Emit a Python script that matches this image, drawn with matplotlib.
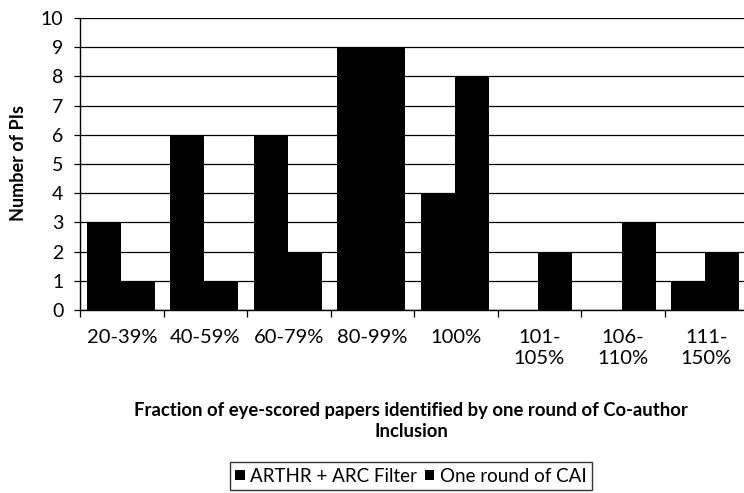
import matplotlib
matplotlib.use("Agg")
import matplotlib.pyplot as plt
import numpy as np

categories = ["20-39%", "40-59%", "60-79%", "80-99%", "100%", "101-\n105%", "106-\n110%", "111-\n150%"]
arthr_arc = [3, 6, 6, 9, 4, 0, 0, 1]
one_round_cai = [1, 1, 2, 9, 8, 2, 3, 2]
series_names = ["ARTHR + ARC Filter", "One round of CAI"]
yticks = list(range(0, 11))

plt.rcParams['font.family'] = ['Lato', 'DejaVu Sans']

fig = plt.figure(figsize=(7.44, 4.93), dpi=100)
W, H = 744, 493
ax = fig.add_axes([80 / W, 1 - 310 / H, 668 / W, 292 / H])

x = np.arange(len(categories))
bw = 0.407
ax.bar(x - 0.213, arthr_arc, width=bw, color="black", zorder=3, label=series_names[0])
ax.bar(x + 0.194, one_round_cai, width=bw, color="black", zorder=3, label=series_names[1])

ax.set_xlim(-0.5, len(categories) - 0.5)
ax.set_ylim(0, 10)
ax.set_yticks(yticks)
ax.set_yticklabels([str(v) for v in yticks], fontsize=14)
ax.yaxis.grid(True, color="black", linewidth=0.9, zorder=0)
ax.set_axisbelow(True)

ax.set_xticks(x)
ax.set_xticklabels(categories, fontsize=14.5, linespacing=1.25, va="top")
ax.tick_params(axis="x", which="major", length=0, pad=14)
ax.set_xticks(np.arange(-0.5, len(categories), 1.0), minor=True)
ax.tick_params(axis="x", which="minor", length=5, width=0.9, color="black", direction="out")
ax.tick_params(axis="y", length=4, width=0.9, color="black", pad=8)

for s in ["top", "right"]:
    ax.spines[s].set_visible(False)
ax.spines["left"].set_linewidth(1.0)
ax.spines["bottom"].set_linewidth(1.0)

ax.set_ylabel("Number of PIs", fontsize=13, fontweight="bold")
ax.yaxis.set_label_coords(-(80 - 19) / 668, (310 - 163) / 292, transform=ax.transAxes)
ax.yaxis.label.set_va("center")
ax.set_xlabel("Fraction of eye-scored papers identified by one round of Co-author\nInclusion",
              fontsize=13.3, fontweight="bold", linespacing=1.3)
ax.xaxis.set_label_coords((411 - 80) / 668, -(402 - 310) / 292, transform=ax.transAxes)
ax.xaxis.label.set_va("top")

leg = fig.legend(loc="center", bbox_to_anchor=(411 / W, 1 - 476 / H), ncol=2,
                 frameon=True, fancybox=False, edgecolor="black", fontsize=13.5,
                 handlelength=0.5, handleheight=0.5, handletextpad=0.3, columnspacing=0.4,
                 borderpad=0.3)
leg.get_frame().set_linewidth(1.0)

fig.savefig("out.png", dpi=100)
